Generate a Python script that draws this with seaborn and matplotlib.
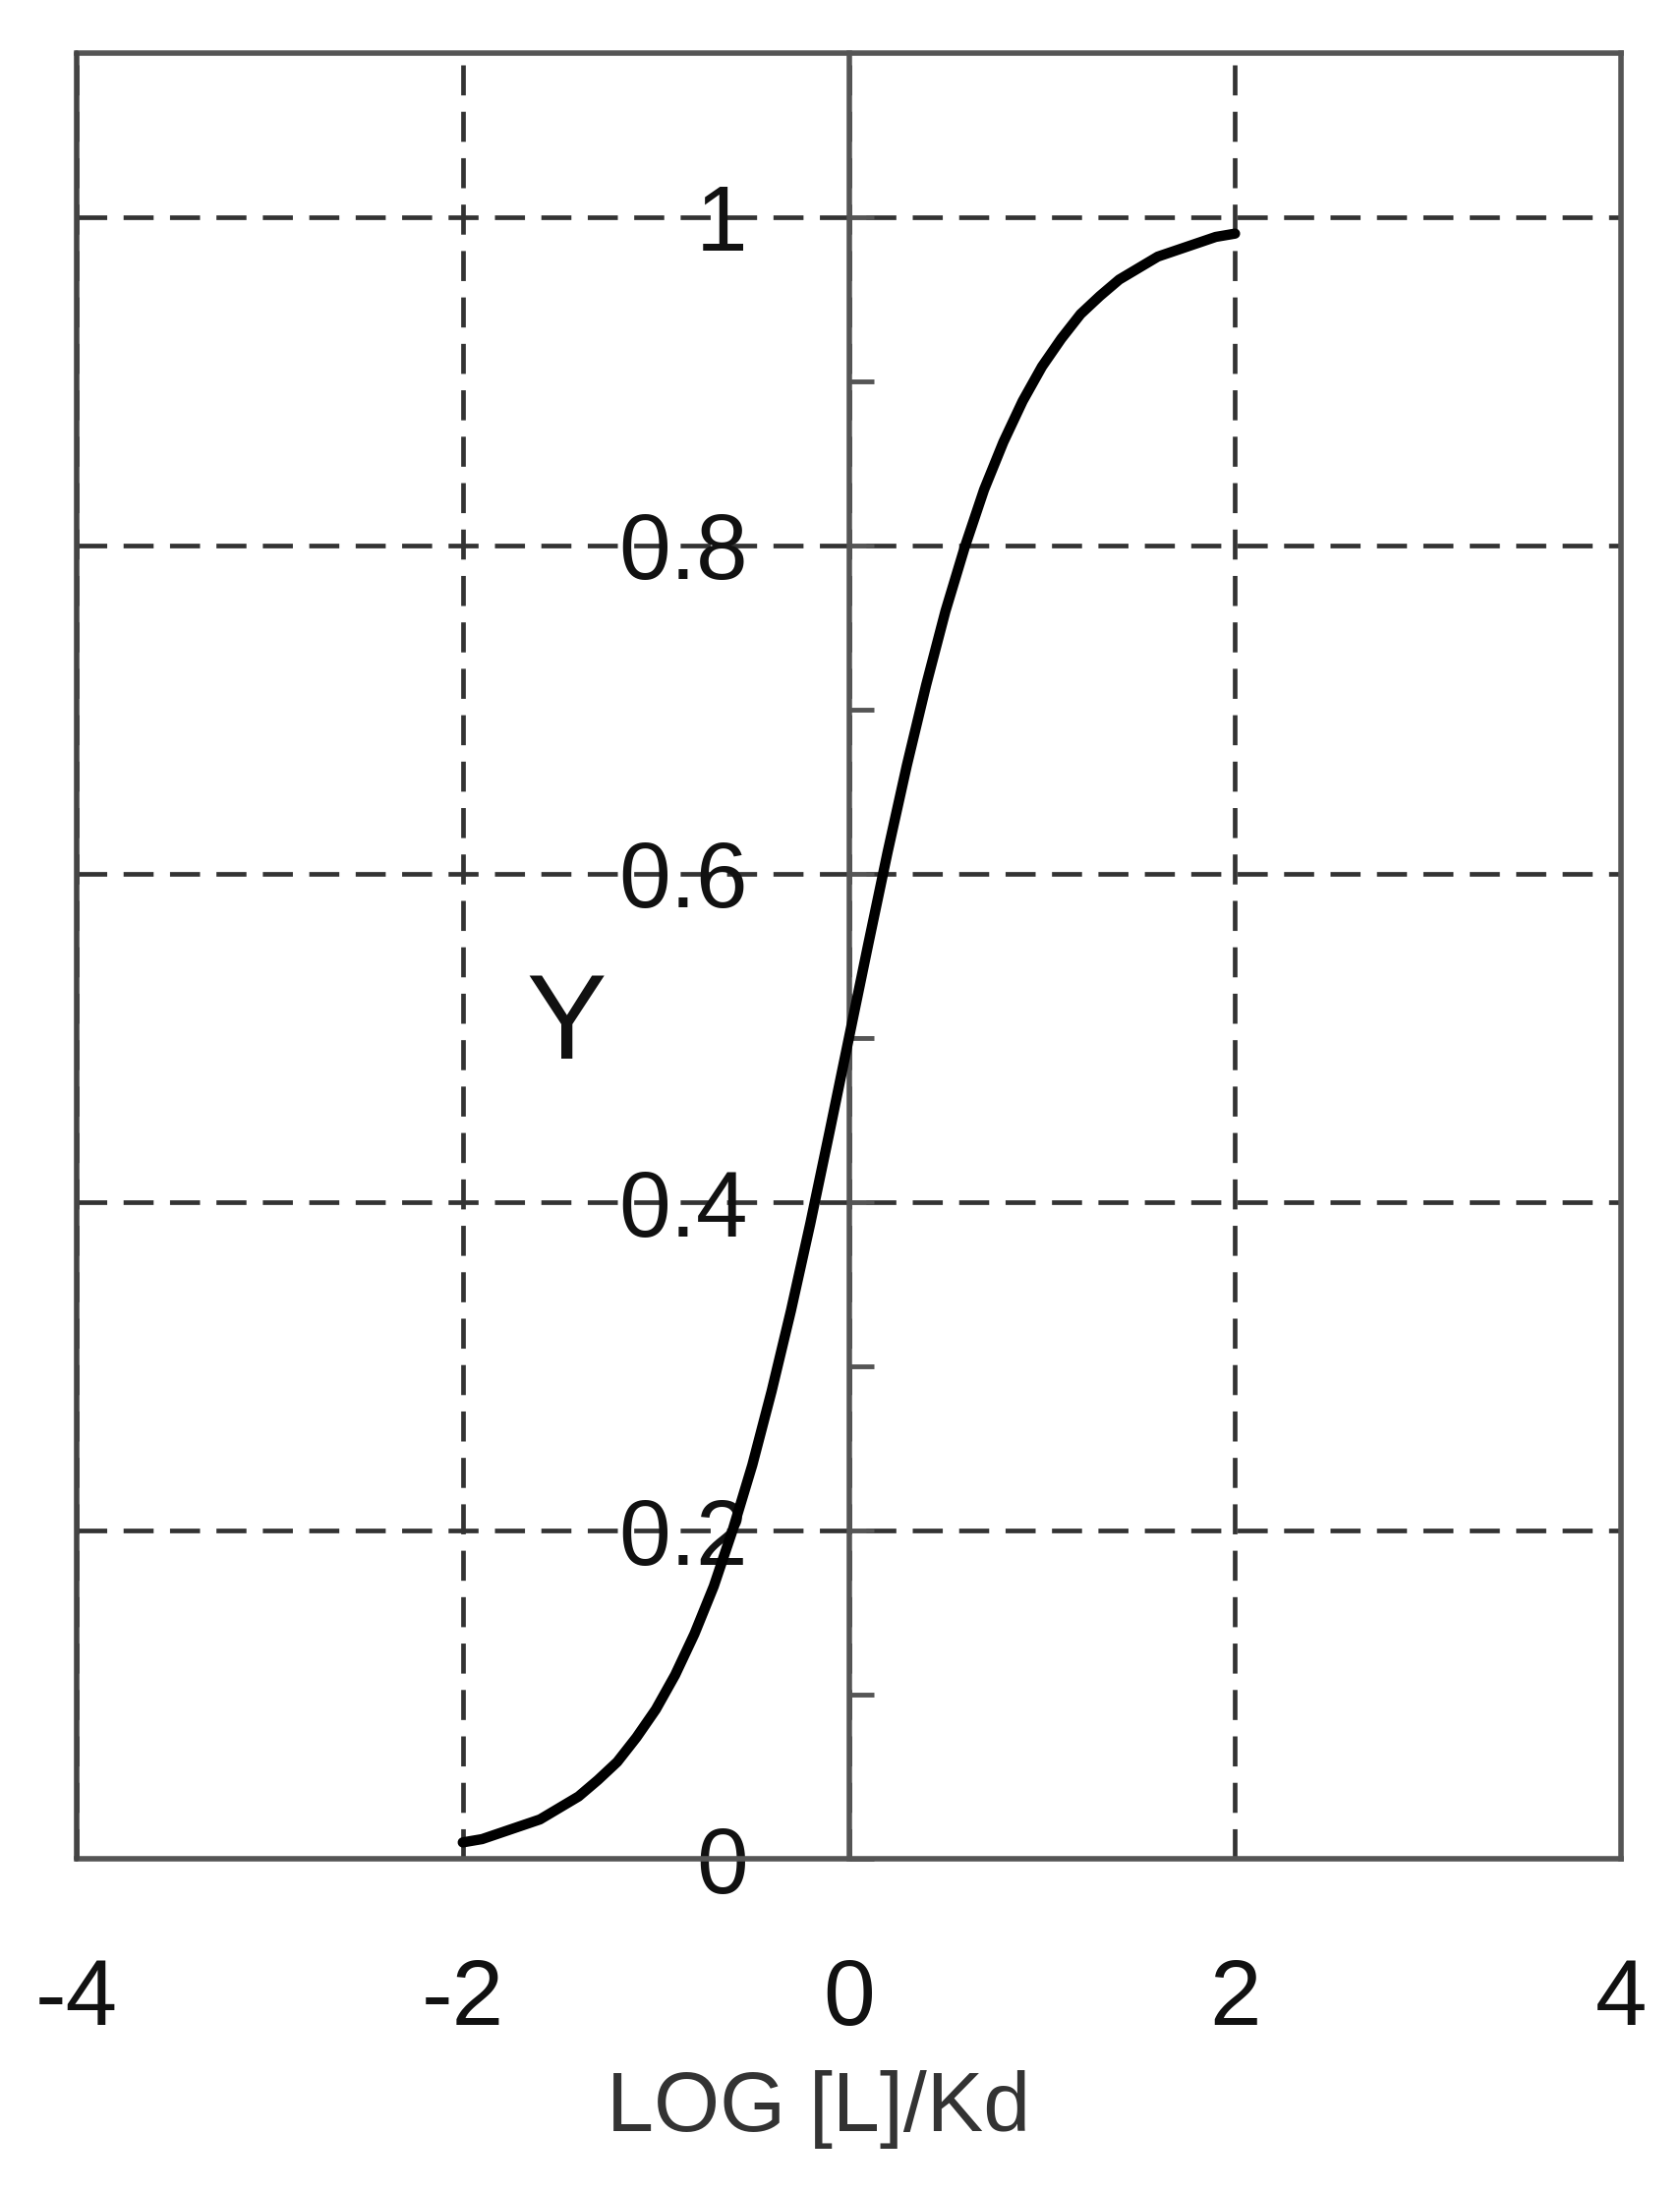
import matplotlib
matplotlib.use("Agg")
import matplotlib.pyplot as plt
import seaborn as sns
import pandas as pd

# binding curve: fractional saturation vs log([L]/Kd)
log_ratio = [-2.0, -1.9, -1.8, -1.7, -1.6, -1.5, -1.4, -1.3, -1.2, -1.1,
             -1.0, -0.9, -0.8, -0.7, -0.6, -0.5, -0.4, -0.3, -0.2, -0.1,
             0.0, 0.1, 0.2, 0.3, 0.4, 0.5, 0.6, 0.7, 0.8, 0.9,
             1.0, 1.1, 1.2, 1.3, 1.4, 1.5, 1.6, 1.7, 1.8, 1.9, 2.0]
saturation = [0.010, 0.012, 0.016, 0.020, 0.024, 0.031, 0.038, 0.048, 0.059, 0.074,
              0.091, 0.112, 0.137, 0.166, 0.201, 0.240, 0.285, 0.334, 0.387, 0.443,
              0.500, 0.557, 0.613, 0.666, 0.715, 0.760, 0.799, 0.834, 0.863, 0.888,
              0.909, 0.926, 0.941, 0.952, 0.962, 0.969, 0.976, 0.980, 0.984, 0.988, 0.990]

x_ticks = [-4, -2, 0, 2, 4]
x_tick_labels = ["-4", "-2", "0", "2", "4"]
y_ticks = [0, 0.2, 0.4, 0.6, 0.8, 1.0]
y_tick_labels = ["0", "0.2", "0.4", "0.6", "0.8", "1"]
y_minor = [0.1, 0.3, 0.5, 0.7, 0.9]

df = pd.DataFrame({"logL": log_ratio, "Y": saturation})

sns.set_theme(style="white")
plt.rcParams["font.family"] = ["Liberation Sans", "DejaVu Sans"]

fig = plt.figure(figsize=(17.09, 22.30), dpi=100)
ax = fig.add_axes([0.0456, 0.152, 0.9194, 0.8238])

frame_col = "#555555"
grid_lw = 3.4

sns.lineplot(data=df, x="logL", y="Y", color="black", linewidth=7.5,
             estimator=None, ax=ax, zorder=5)

ax.set_xlim(-4, 4)
ax.set_ylim(0, 1.1)

# dashed grid
ax.grid(True, which="major", color="#333333", linewidth=grid_lw,
        linestyle=(0, (22 / grid_lw, 12 / grid_lw)))

# y axis sits at x = 0, frame kept around the whole plot
ax.spines["left"].set_position(("data", 0))
for side in ["left", "right", "top", "bottom"]:
    ax.spines[side].set_color(frame_col)
    ax.spines[side].set_linewidth(4)
    ax.spines[side].set_visible(True)
ax.axvline(ax.get_xlim()[0], color="#444444", linewidth=4, clip_on=False, zorder=3)

ax.set_xticks(x_ticks)
ax.set_xticklabels(x_tick_labels)
ax.set_yticks(y_ticks)
ax.set_yticklabels(y_tick_labels)
ax.set_yticks(y_minor, minor=True)

ax.tick_params(axis="x", length=0, pad=72, labelsize=68, labelcolor="#111111")
ax.tick_params(axis="y", which="both", direction="in", length=18, width=3.5,
               color=frame_col, pad=74, labelsize=68, labelcolor="#111111", left=True)

ax.set_xlabel("LOG [L]/Kd", fontsize=62, color="#333333")
ax.xaxis.set_label_coords(0.48, -0.117)
ax.set_ylabel("Y", fontsize=88, rotation=0, color="#111111", ha="center", va="center")
ax.yaxis.set_label_coords(0.317, 0.4605)

fig.savefig("out.png", dpi=100, facecolor="white")
